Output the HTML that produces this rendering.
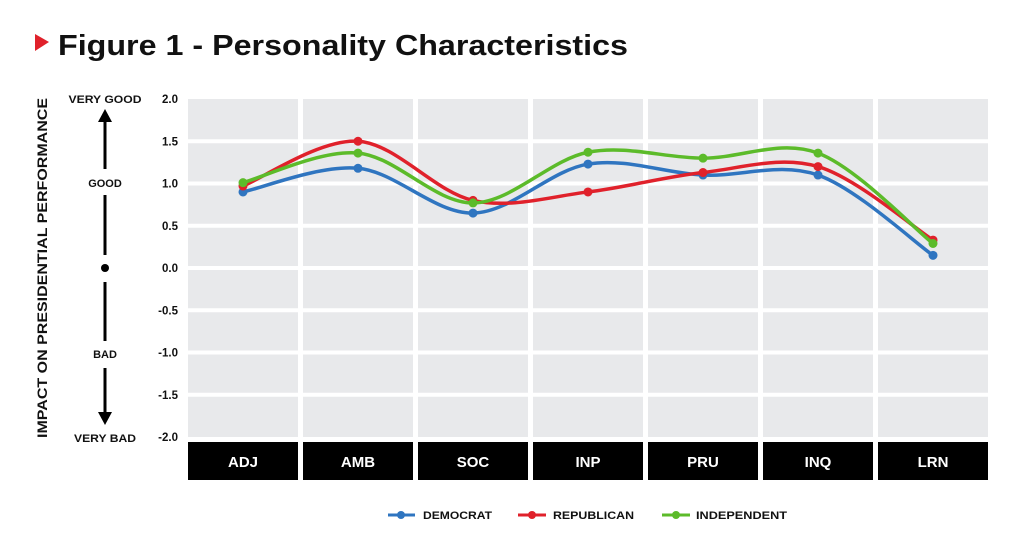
<!DOCTYPE html>
<html><head><meta charset="utf-8"><style>
html,body{margin:0;padding:0;background:#fff;}
svg{display:block;font-family:"Liberation Sans",sans-serif;}
</style></head><body>
<svg id="s" width="1024" height="548" viewBox="0 0 1024 548" xmlns="http://www.w3.org/2000/svg">
<polygon points="35,34 49,42 35,51" fill="#e0212b"/>
<text x="58" y="55" font-size="29" font-weight="bold" fill="#111" textLength="570" lengthAdjust="spacingAndGlyphs">Figure 1 - Personality Characteristics</text>
<text transform="translate(47,268) rotate(-90)" text-anchor="middle" font-size="14" font-weight="bold" fill="#111" textLength="340" lengthAdjust="spacingAndGlyphs">IMPACT ON PRESIDENTIAL PERFORMANCE</text>
<g font-size="11" font-weight="bold" fill="#111" text-anchor="middle">
<text x="105" y="103" textLength="73" lengthAdjust="spacingAndGlyphs">VERY GOOD</text>
<text x="105" y="187">GOOD</text>
<text x="105" y="358">BAD</text>
<text x="105" y="442" textLength="62" lengthAdjust="spacingAndGlyphs">VERY BAD</text>
</g>
<g stroke="#000" stroke-width="3">
<line x1="105" y1="120" x2="105" y2="169"/>
<line x1="105" y1="195" x2="105" y2="255"/>
<line x1="105" y1="282" x2="105" y2="341"/>
<line x1="105" y1="368" x2="105" y2="414"/>
</g>
<polygon points="98,122 112,122 105,109" fill="#000"/>
<polygon points="98,412 112,412 105,425" fill="#000"/>
<circle cx="105" cy="268" r="4" fill="#000"/>
<g id="grid"></g>
<g id="ticks" font-size="11.5" font-weight="bold" fill="#111" text-anchor="end"></g>
<g id="lines"></g>
<g font-size="11" font-weight="bold" fill="#111">
<line x1="388" y1="515" x2="415" y2="515" stroke="#2f75c0" stroke-width="3"/><circle cx="401" cy="515" r="4" fill="#2f75c0"/>
<text x="423" y="519" textLength="69" lengthAdjust="spacingAndGlyphs">DEMOCRAT</text>
<line x1="518" y1="515" x2="546" y2="515" stroke="#e0212b" stroke-width="3"/><circle cx="532" cy="515" r="4" fill="#e0212b"/>
<text x="553" y="519" textLength="81" lengthAdjust="spacingAndGlyphs">REPUBLICAN</text>
<line x1="662" y1="515" x2="690" y2="515" stroke="#5cbb2a" stroke-width="3"/><circle cx="676" cy="515" r="4" fill="#5cbb2a"/>
<text x="696" y="519" textLength="91" lengthAdjust="spacingAndGlyphs">INDEPENDENT</text>
</g>
</svg>
<script>
var NS="http://www.w3.org/2000/svg";
function el(t,a,p,txt){var e=document.createElementNS(NS,t);for(var k in a)e.setAttribute(k,a[k]);if(txt)e.textContent=txt;document.getElementById(p).appendChild(e);return e;}
var Y=function(v){return 268-v*84.5;};
var cats=["ADJ","AMB","SOC","INP","PRU","INQ","LRN"];
for(var i=0;i<7;i++){
 var x=188+i*115;
 for(var j=0;j<8;j++){
  var y0=Y(2-j*0.5), y1=Y(2-(j+1)*0.5);
  el("rect",{x:x,y:y0+ (j==0?0:2),width:110,height:(y1-y0)-(j==0?2:4)+(j==7?2:0),fill:"#e8e9eb"},"grid");
 }
 el("rect",{x:x,y:442,width:110,height:38,fill:"#000"},"grid");
 el("text",{x:x+55,y:467,"text-anchor":"middle","font-size":"15","font-weight":"bold",fill:"#fff"},"grid",cats[i]);
}
for(var j=0;j<=8;j++){var v=2-j*0.5;el("text",{x:178,y:Y(v)+4},"ticks",v.toFixed(1));}
var data=[["#2f75c0",[0.9,1.18,0.65,1.23,1.1,1.1,0.15]],["#e0212b",[0.97,1.5,0.8,0.9,1.13,1.2,0.33]],["#5cbb2a",[1.01,1.36,0.77,1.37,1.3,1.36,0.29]]];
data.forEach(function(s){
 var p=s[1].map(function(v,i){return [243+i*115,Y(v)];});
 var d="M"+p[0][0]+","+p[0][1];
 for(var i=0;i<p.length-1;i++){
  var a=p[Math.max(i-1,0)],b=p[i],c=p[i+1],e=p[Math.min(i+2,p.length-1)];
  var c1=[b[0]+(c[0]-a[0])/6,b[1]+(c[1]-a[1])/6],c2=[c[0]-(e[0]-b[0])/6,c[1]-(e[1]-b[1])/6];
  d+=" C"+c1+" "+c2+" "+c;
 }
 el("path",{d:d,fill:"none",stroke:s[0],"stroke-width":3.5},"lines");
 [0,1,2,3,4,5,6].forEach(function(i){el("circle",{cx:p[i][0],cy:p[i][1],r:4.5,fill:s[0]},"lines");});
});
</script>
</body></html>
